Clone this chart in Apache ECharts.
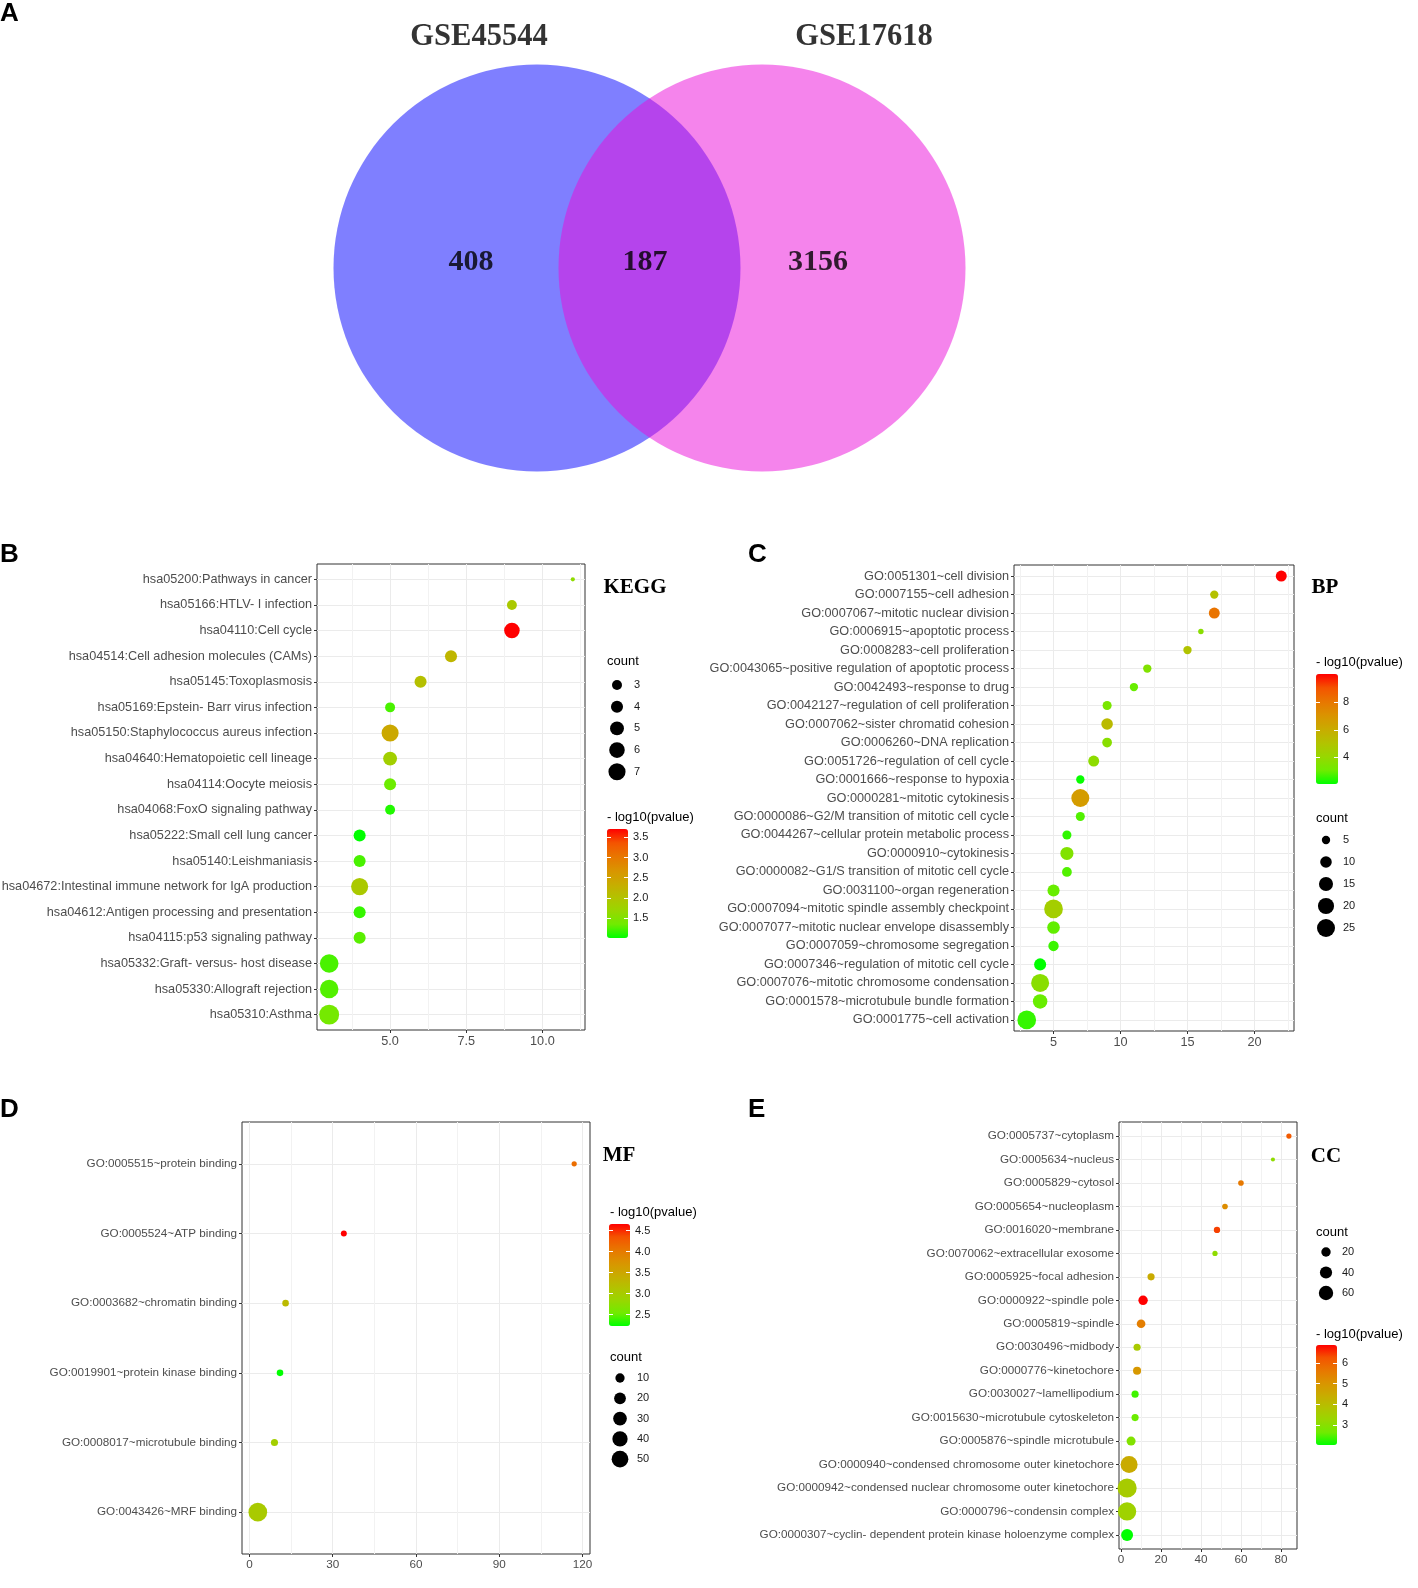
<!DOCTYPE html>
<html><head><meta charset="utf-8">
<script src="https://cdn.jsdelivr.net/npm/echarts@6/dist/echarts.min.js"></script>
<style>html,body{margin:0;padding:0;background:#fff}#c{width:1418px;height:1588px}</style>
</head><body><div id="c"></div>
<script>
// ================= DATA =================
// Panel A: Venn
const vennSets = ['GSE45544', 'GSE17618'];
const vennCounts = [408, 187, 3156]; // only GSE45544, shared, only GSE17618

// Panel B: KEGG
const keggTerms = [
  'hsa05200:Pathways in cancer', 'hsa05166:HTLV- I infection', 'hsa04110:Cell cycle',
  'hsa04514:Cell adhesion molecules (CAMs)', 'hsa05145:Toxoplasmosis', 'hsa05169:Epstein- Barr virus infection',
  'hsa05150:Staphylococcus aureus infection', 'hsa04640:Hematopoietic cell lineage', 'hsa04114:Oocyte meiosis',
  'hsa04068:FoxO signaling pathway', 'hsa05222:Small cell lung cancer', 'hsa05140:Leishmaniasis',
  'hsa04672:Intestinal immune network for IgA production', 'hsa04612:Antigen processing and presentation',
  'hsa04115:p53 signaling pathway', 'hsa05332:Graft- versus- host disease', 'hsa05330:Allograft rejection',
  'hsa05310:Asthma'];
const keggX = [11, 9, 9, 7, 6, 5, 5, 5, 5, 5, 4, 4, 4, 4, 4, 3, 3, 3];
const keggP = [1.6, 1.9, 3.71, 2.2, 2.05, 1.22, 2.4, 1.8, 1.33, 1.1, 1.0, 1.22, 1.9, 1.16, 1.27, 1.22, 1.25, 1.38];
const keggCount = [1, 3, 6, 4, 4, 3, 7, 5, 4, 3, 4, 4, 7, 4, 4, 8, 8, 9];
const keggXTicks = [5, 7.5, 10];
const keggXMinor = [3.75, 6.25, 8.75, 11.25];
const keggColorTicks = [1.5, 2.0, 2.5, 3.0, 3.5];
const keggSizeTicks = [3, 4, 5, 6, 7];

// Panel C: BP
const bpTerms = [
  'GO:0051301~cell division', 'GO:0007155~cell adhesion', 'GO:0007067~mitotic nuclear division',
  'GO:0006915~apoptotic process', 'GO:0008283~cell proliferation', 'GO:0043065~positive regulation of apoptotic process',
  'GO:0042493~response to drug', 'GO:0042127~regulation of cell proliferation', 'GO:0007062~sister chromatid cohesion',
  'GO:0006260~DNA replication', 'GO:0051726~regulation of cell cycle', 'GO:0001666~response to hypoxia',
  'GO:0000281~mitotic cytokinesis', 'GO:0000086~G2/M transition of mitotic cell cycle',
  'GO:0044267~cellular protein metabolic process', 'GO:0000910~cytokinesis',
  'GO:0000082~G1/S transition of mitotic cell cycle', 'GO:0031100~organ regeneration',
  'GO:0007094~mitotic spindle assembly checkpoint', 'GO:0007077~mitotic nuclear envelope disassembly',
  'GO:0007059~chromosome segregation', 'GO:0007346~regulation of mitotic cell cycle',
  'GO:0007076~mitotic chromosome condensation', 'GO:0001578~microtubule bundle formation',
  'GO:0001775~cell activation'];
const bpX = [22, 17, 17, 16, 15, 12, 11, 9, 9, 9, 8, 7, 7, 7, 6, 6, 6, 5, 5, 5, 5, 4, 4, 4, 3];
const bpP = [10.04, 5.1, 8.1, 3.7, 5.0, 3.5, 3.0, 3.3, 5.4, 3.7, 3.8, 2.15, 6.7, 2.8, 2.5, 3.5, 2.8, 3.0, 4.5, 2.95, 2.6, 2.08, 3.7, 3.0, 2.55];
const bpCount = [9, 5, 9, 2, 5, 5, 5, 6, 10, 7, 9, 5, 25, 6, 6, 13, 7, 11, 27, 12, 8, 11, 25, 16, 27];
const bpXTicks = [5, 10, 15, 20];
const bpXMinor = [2.5, 7.5, 12.5, 17.5, 22.5];
const bpColorTicks = [4, 6, 8];
const bpSizeTicks = [5, 10, 15, 20, 25];

// Panel D: MF
const mfTerms = ['GO:0005515~protein binding', 'GO:0005524~ATP binding', 'GO:0003682~chromatin binding',
  'GO:0019901~protein kinase binding', 'GO:0008017~microtubule binding', 'GO:0043426~MRF binding'];
const mfX = [117, 34, 13, 11, 9, 3];
const mfP = [4.13, 4.66, 3.25, 2.23, 2.96, 3.03];
const mfCount = [1, 2, 3, 3, 4, 66];
const mfXTicks = [0, 30, 60, 90, 120];
const mfXMinor = [15, 45, 75, 105];
const mfColorTicks = [2.5, 3.0, 3.5, 4.0, 4.5];
const mfSizeTicks = [10, 20, 30, 40, 50];

// Panel E: CC
const ccTerms = ['GO:0005737~cytoplasm', 'GO:0005634~nucleus', 'GO:0005829~cytosol', 'GO:0005654~nucleoplasm',
  'GO:0016020~membrane', 'GO:0070062~extracellular exosome', 'GO:0005925~focal adhesion', 'GO:0000922~spindle pole',
  'GO:0005819~spindle', 'GO:0030496~midbody', 'GO:0000776~kinetochore', 'GO:0030027~lamellipodium',
  'GO:0015630~microtubule cytoskeleton', 'GO:0005876~spindle microtubule',
  'GO:0000940~condensed chromosome outer kinetochore', 'GO:0000942~condensed nuclear chromosome outer kinetochore',
  'GO:0000796~condensin complex', 'GO:0000307~cyclin- dependent protein kinase holoenzyme complex'];
const ccX = [84, 76, 60, 52, 48, 47, 15, 11, 10, 8, 8, 7, 7, 5, 4, 3, 3, 3];
const ccP = [6.14, 3.09, 5.6, 5.17, 6.4, 3.09, 4.45, 6.87, 5.5, 3.62, 4.93, 2.36, 2.6, 2.9, 4.45, 3.57, 3.38, 2.02];
const ccCount = [3, 1, 4, 4, 6, 3, 9, 20, 16, 9, 13, 9, 9, 18, 90, 120, 107, 38];
const ccXTicks = [0, 20, 40, 60, 80];
const ccXMinor = [10, 30, 50, 70];
const ccColorTicks = [3, 4, 5, 6];
const ccSizeTicks = [20, 40, 60];

// ================= STYLE / LAYOUT =================
const FF = "'Liberation Sans', Arial, Helvetica, sans-serif";
const SERIF = "'Liberation Serif', 'Times New Roman', serif";
const GRAD = ['#00FF00', '#70EB00', '#98D700', '#B3C200', '#C9AB00', '#DA9300', '#E87600', '#F45300', '#FF0000'];

const option = {
  backgroundColor: '#ffffff', animation: false,
  grid: [], xAxis: [], yAxis: [], series: [], visualMap: [],
  graphic: { elements: [] }
};
const G = option.graphic.elements;
function txt(s, x, y, font, align) {
  G.push({ type: 'text', x: x, y: y, silent: true, z: 50,
    style: { text: s, font: font, fill: '#000000', textAlign: align || 'left', textVerticalAlign: 'middle',
      align: align || 'left', verticalAlign: 'middle' } });
}
function mkGrid(o) {
  o.containLabel = false; o.outerBoundsMode = 'none';
  option.grid.push(o); return option.grid.length - 1;
}
const NOLINE = { show: false, onZero: false };

function dotPanel(p) {
  const N = p.terms.length;
  const lo = Math.min(...p.xs), hi = Math.max(...p.xs), pad = (hi - lo) * 0.05;
  const g = mkGrid({ left: p.box[0], top: p.box[1], width: p.box[2], height: p.box[3], show: true,
    borderColor: '#333333', borderWidth: 1, backgroundColor: '#ffffff' });
  const xi = option.xAxis.length;
  option.xAxis.push({ gridIndex: g, type: 'value', position: 'bottom', min: lo - pad, max: hi + pad,
    axisLine: NOLINE,
    axisTick: { show: true, length: 3, lineStyle: { color: '#333333', width: 1 }, customValues: p.xTicks },
    axisLabel: { show: true, customValues: p.xTicks, formatter: p.xFmt, color: '#4d4d4d', fontSize: p.fs, fontFamily: FF, margin: 5 },
    splitLine: { show: true, lineStyle: { color: '#ebebeb', width: 1 } } });
  option.xAxis.push({ gridIndex: g, type: 'value', position: 'top', min: lo - pad, max: hi + pad,
    axisLine: NOLINE, axisTick: { show: false, customValues: p.xMinor },
    axisLabel: { show: false }, splitLine: { show: true, lineStyle: { color: '#f2f2f2', width: 1 } } });
  const idx = p.terms.map((t, i) => i);
  const yi = option.yAxis.length;
  option.yAxis.push({ gridIndex: g, type: 'value', position: 'left', inverse: true, min: -0.6, max: N - 0.4,
    axisLine: NOLINE,
    axisTick: { show: true, length: 3, lineStyle: { color: '#333333', width: 1 }, customValues: idx },
    axisLabel: { customValues: idx, formatter: v => p.terms[Math.round(v)], color: '#4d4d4d', fontSize: p.fs, fontFamily: FF, margin: 5 },
    splitLine: { show: true, lineStyle: { color: '#ebebeb', width: 1 } } });
  const si = option.series.length;
  option.series.push({ type: 'scatter', xAxisIndex: xi, yAxisIndex: yi, silent: true, z: 3,
    data: p.terms.map((t, i) => [p.xs[i], i, p.ps[i], p.counts[i]]),
    symbolSize: v => p.size(v[3]), itemStyle: { opacity: 1 } });
  const pmin = Math.min(...p.ps), pmax = Math.max(...p.ps);
  option.visualMap.push({ type: 'continuous', seriesIndex: si, dimension: 2, min: pmin, max: pmax,
    inRange: { color: GRAD }, calculable: false, hoverLink: false, show: true, orient: 'vertical',
    left: p.cbar[0], top: p.cbar[1], itemWidth: p.cbar[2], itemHeight: p.cbar[3], padding: 0, text: null, z: 2 });
  // colorbar ticks / labels
  const cg = mkGrid({ left: p.cbar[0], top: p.cbar[1], width: p.cbar[2], height: p.cbar[3], show: false });
  option.xAxis.push({ gridIndex: cg, type: 'value', show: false, min: 0, max: 1, axisLine: NOLINE });
  option.yAxis.push({ gridIndex: cg, type: 'value', position: 'right', min: pmin, max: pmax, z: 10,
    axisLine: NOLINE,
    axisTick: { show: true, inside: true, length: 4, lineStyle: { color: '#ffffff', width: 1 }, customValues: p.cTicks },
    axisLabel: { customValues: p.cTicks, formatter: p.cFmt, color: '#1a1a1a', fontSize: 11, fontFamily: FF, margin: 5 },
    splitLine: { show: false } });
  option.yAxis.push({ gridIndex: cg, type: 'value', position: 'left', min: pmin, max: pmax, z: 10,
    axisLine: NOLINE,
    axisTick: { show: true, inside: true, length: 4, lineStyle: { color: '#ffffff', width: 1 }, customValues: p.cTicks },
    axisLabel: { show: false }, splitLine: { show: false } });
  // size legend
  const nS = p.sTicks.length;
  const sg = mkGrid({ left: p.sLeg[0] - 10, top: p.sLeg[1] - p.sLeg[2] / 2, width: 20, height: p.sLeg[2] * nS, show: false });
  const sx = option.xAxis.length;
  option.xAxis.push({ gridIndex: sg, type: 'value', show: false, min: -1, max: 1, axisLine: NOLINE });
  const sy = option.yAxis.length;
  option.yAxis.push({ gridIndex: sg, type: 'category', inverse: true, position: 'right', data: p.sTicks.map(String),
    axisLine: NOLINE, axisTick: { show: false },
    axisLabel: { interval: 0, color: '#1a1a1a', fontSize: 11, fontFamily: FF, margin: p.sLeg[3] - (p.sLeg[0] + 10) },
    splitLine: { show: false } });
  option.series.push({ type: 'scatter', xAxisIndex: sx, yAxisIndex: sy, silent: true,
    data: p.sTicks.map((v, i) => [0, i, v]), symbolSize: v => p.size(v[2]), itemStyle: { color: '#000000', opacity: 1 } });
  // texts
  txt(p.title, p.titlePos[0], p.titlePos[1], 'bold 21px ' + SERIF, 'center');
  txt('count', p.countPos[0], p.countPos[1], '13px ' + FF, 'left');
  txt('- log10(pvalue)', p.pvPos[0], p.pvPos[1], '13px ' + FF, 'left');
}

dotPanel({ terms: keggTerms, xs: keggX, ps: keggP, counts: keggCount,
  box: [317, 564, 268, 466], fs: 12.7, xTicks: keggXTicks, xMinor: keggXMinor, xFmt: v => v.toFixed(1),
  size: c => 7.84 * Math.sqrt(c) - 3.64,
  cbar: [607, 829, 21, 109], cTicks: keggColorTicks, cFmt: v => v.toFixed(1),
  sTicks: keggSizeTicks, sLeg: [617, 685, 21.7, 634],
  title: 'KEGG', titlePos: [635, 588], countPos: [607, 661], pvPos: [607, 817] });

dotPanel({ terms: bpTerms, xs: bpX, ps: bpP, counts: bpCount,
  box: [1014, 565, 280, 466], fs: 12.7, xTicks: bpXTicks, xMinor: bpXMinor, xFmt: v => String(v),
  size: c => 0.5 + 3.5 * Math.sqrt(c),
  cbar: [1316, 674, 22, 110], cTicks: bpColorTicks, cFmt: v => String(v),
  sTicks: bpSizeTicks, sLeg: [1326, 840, 22, 1343],
  title: 'BP', titlePos: [1325, 588], countPos: [1316, 818], pvPos: [1316, 662] });

dotPanel({ terms: mfTerms, xs: mfX, ps: mfP, counts: mfCount,
  box: [242, 1122, 348, 432], fs: 11.7, xTicks: mfXTicks, xMinor: mfXMinor, xFmt: v => String(v),
  size: c => 3.31 + 1.893 * Math.sqrt(c),
  cbar: [609, 1224, 21, 102], cTicks: mfColorTicks, cFmt: v => v.toFixed(1),
  sTicks: mfSizeTicks, sLeg: [620, 1378, 20.3, 637],
  title: 'MF', titlePos: [619, 1156], countPos: [610, 1357], pvPos: [610, 1212] });

dotPanel({ terms: ccTerms, xs: ccX, ps: ccP, counts: ccCount,
  box: [1119, 1122, 178, 427], fs: 11.7, xTicks: ccXTicks, xMinor: ccXMinor, xFmt: v => String(v),
  size: c => 2.61 + 1.517 * Math.sqrt(c),
  cbar: [1316, 1345, 21, 100], cTicks: ccColorTicks, cFmt: v => String(v),
  sTicks: ccSizeTicks, sLeg: [1326, 1252, 20.5, 1342],
  title: 'CC', titlePos: [1326, 1157], countPos: [1316, 1232], pvPos: [1316, 1334] });

// ---- Venn (panel A) ----
const vg = mkGrid({ left: 300, top: 0, width: 700, height: 500, show: false });
const vxi = option.xAxis.length;
option.xAxis.push({ gridIndex: vg, type: 'value', show: false, min: -3.5, max: 3.5, axisLine: NOLINE });
const vyi = option.yAxis.length;
option.yAxis.push({ gridIndex: vg, type: 'value', show: false, min: -2.32, max: 2.68, axisLine: NOLINE });
const vennCenters = [-1.13, 1.12];
const vennColors = ['#0000FF', '#EB09D9'];
vennSets.forEach((name, i) => {
  option.series.push({ type: 'scatter', xAxisIndex: vxi, yAxisIndex: vyi, silent: true, clip: false, z: 1 + i,
    symbol: 'circle', symbolSize: 407,
    data: [[vennCenters[i], 0]], itemStyle: { color: vennColors[i], opacity: 0.5 } });
});
const vennLabelX = [-1.79, -0.05, 1.68];
option.series.push({ type: 'scatter', xAxisIndex: vxi, yAxisIndex: vyi, silent: true, clip: false, z: 5,
  symbolSize: 1, itemStyle: { color: 'transparent' },
  data: vennCounts.map((c, i) => [vennLabelX[i], 0.06, c]),
  label: { show: true, position: 'inside', formatter: p => String(p.data[2]),
    fontFamily: SERIF, fontWeight: 'bold', fontSize: 30, color: '#000000' } });
const vennTitleX = [-1.71, 2.14];
option.series.push({ type: 'scatter', xAxisIndex: vxi, yAxisIndex: vyi, silent: true, clip: false, z: 5,
  symbolSize: 1, itemStyle: { color: 'transparent' },
  data: vennSets.map((s, i) => [vennTitleX[i], 2.31, s]),
  label: { show: true, position: 'inside', formatter: p => p.data[2],
    fontFamily: SERIF, fontWeight: 'bold', fontSize: 30.5, color: '#000000' } });

// panel letters
txt('A', 0, 14, 'bold 26px ' + FF, 'left');
txt('B', 0, 555, 'bold 26px ' + FF, 'left');
txt('C', 748, 555, 'bold 26px ' + FF, 'left');
txt('D', 0, 1110, 'bold 26px ' + FF, 'left');
txt('E', 748, 1110, 'bold 26px ' + FF, 'left');

const chart = echarts.init(document.getElementById('c'), null, { renderer: 'canvas' });
chart.setOption(option);
</script>
</body></html>
